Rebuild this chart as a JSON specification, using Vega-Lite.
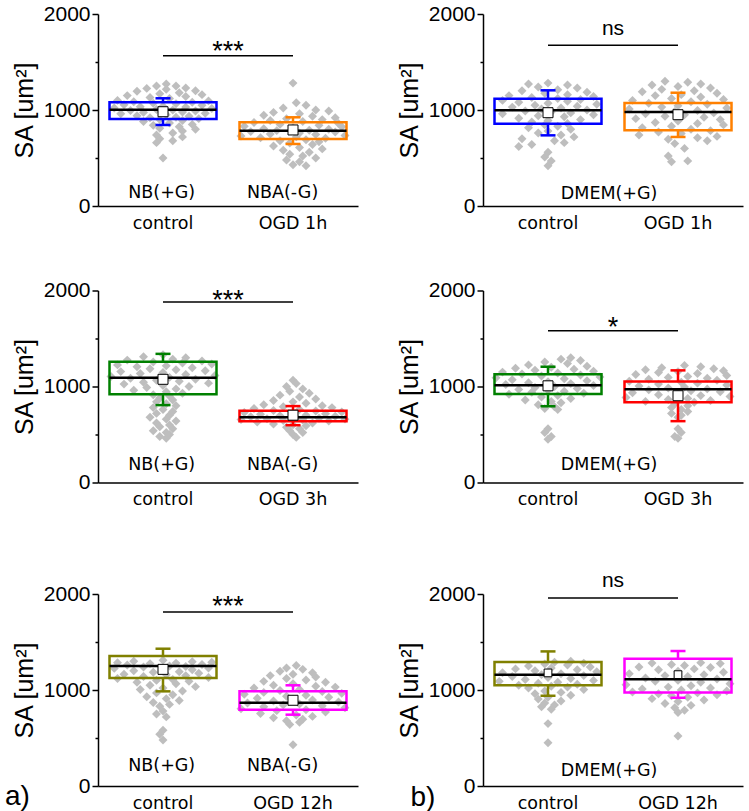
{
"$schema": "https://vega.github.io/schema/vega-lite/v6.json",
"padding": {"left": 5, "top": 3, "right": 2, "bottom": 0},
"background": "#FFFFFF",
"datasets": {
"pts": [
{"p":"1L","g":"control","v":1270,"o":0.05},{"p":"1L","g":"control","v":1250,"o":-0.1},{"p":"1L","g":"control","v":1250,"o":0.2},{"p":"1L","g":"control","v":1230,"o":0.35},{"p":"1L","g":"control","v":1225,"o":-0.25},{"p":"1L","g":"control","v":1215,"o":0.05},{"p":"1L","g":"control","v":1200,"o":0.5},{"p":"1L","g":"control","v":1195,"o":-0.4},{"p":"1L","g":"control","v":1180,"o":0.25},{"p":"1L","g":"control","v":1170,"o":-0.05},{"p":"1L","g":"control","v":1160,"o":0.6},{"p":"1L","g":"control","v":1150,"o":-0.55},{"p":"1L","g":"control","v":1140,"o":0.35},{"p":"1L","g":"control","v":1130,"o":-0.2},{"p":"1L","g":"control","v":1120,"o":0.1},{"p":"1L","g":"control","v":1100,"o":-0.7},{"p":"1L","g":"control","v":1095,"o":0.7},{"p":"1L","g":"control","v":1085,"o":-0.45},{"p":"1L","g":"control","v":1080,"o":0.45},{"p":"1L","g":"control","v":1070,"o":-0.15},{"p":"1L","g":"control","v":1065,"o":0.2},{"p":"1L","g":"control","v":1055,"o":-0.6},{"p":"1L","g":"control","v":1050,"o":0.6},{"p":"1L","g":"control","v":1040,"o":0},{"p":"1L","g":"control","v":1035,"o":-0.35},{"p":"1L","g":"control","v":1030,"o":0.35},{"p":"1L","g":"control","v":1020,"o":-0.75},{"p":"1L","g":"control","v":1015,"o":0.75},{"p":"1L","g":"control","v":1005,"o":-0.1},{"p":"1L","g":"control","v":1000,"o":0.15},{"p":"1L","g":"control","v":995,"o":-0.5},{"p":"1L","g":"control","v":990,"o":0.5},{"p":"1L","g":"control","v":980,"o":0.3},{"p":"1L","g":"control","v":975,"o":-0.3},{"p":"1L","g":"control","v":965,"o":0.65},{"p":"1L","g":"control","v":960,"o":-0.65},{"p":"1L","g":"control","v":950,"o":0.05},{"p":"1L","g":"control","v":940,"o":-0.4},{"p":"1L","g":"control","v":935,"o":0.4},{"p":"1L","g":"control","v":925,"o":0.2},{"p":"1L","g":"control","v":920,"o":-0.2},{"p":"1L","g":"control","v":910,"o":0.55},{"p":"1L","g":"control","v":900,"o":-0.05},{"p":"1L","g":"control","v":890,"o":0.3},{"p":"1L","g":"control","v":880,"o":-0.3},{"p":"1L","g":"control","v":865,"o":0.1},{"p":"1L","g":"control","v":850,"o":0.45},{"p":"1L","g":"control","v":840,"o":-0.15},{"p":"1L","g":"control","v":825,"o":0.25},{"p":"1L","g":"control","v":810,"o":-0.05},{"p":"1L","g":"control","v":800,"o":0.5},{"p":"1L","g":"control","v":780,"o":0.3},{"p":"1L","g":"control","v":760,"o":0.15},{"p":"1L","g":"control","v":740,"o":-0.1},{"p":"1L","g":"control","v":720,"o":0.3},{"p":"1L","g":"control","v":700,"o":-0.05},{"p":"1L","g":"control","v":680,"o":0.15},{"p":"1L","g":"control","v":660,"o":-0.1},{"p":"1L","g":"control","v":500,"o":0},
{"p":"1L","g":"OGD 1h","v":1280,"o":0},{"p":"1L","g":"OGD 1h","v":1075,"o":0.05},{"p":"1L","g":"OGD 1h","v":1050,"o":0.2},{"p":"1L","g":"OGD 1h","v":1020,"o":-0.15},{"p":"1L","g":"OGD 1h","v":1000,"o":0.35},{"p":"1L","g":"OGD 1h","v":990,"o":0.55},{"p":"1L","g":"OGD 1h","v":975,"o":-0.3},{"p":"1L","g":"OGD 1h","v":960,"o":0.1},{"p":"1L","g":"OGD 1h","v":945,"o":-0.45},{"p":"1L","g":"OGD 1h","v":935,"o":0.3},{"p":"1L","g":"OGD 1h","v":920,"o":0.65},{"p":"1L","g":"OGD 1h","v":910,"o":-0.1},{"p":"1L","g":"OGD 1h","v":900,"o":0.45},{"p":"1L","g":"OGD 1h","v":890,"o":-0.35},{"p":"1L","g":"OGD 1h","v":880,"o":0.15},{"p":"1L","g":"OGD 1h","v":870,"o":-0.6},{"p":"1L","g":"OGD 1h","v":860,"o":0.7},{"p":"1L","g":"OGD 1h","v":850,"o":-0.2},{"p":"1L","g":"OGD 1h","v":840,"o":0.4},{"p":"1L","g":"OGD 1h","v":830,"o":-0.75},{"p":"1L","g":"OGD 1h","v":825,"o":0.75},{"p":"1L","g":"OGD 1h","v":815,"o":0},{"p":"1L","g":"OGD 1h","v":805,"o":-0.45},{"p":"1L","g":"OGD 1h","v":800,"o":0.55},{"p":"1L","g":"OGD 1h","v":790,"o":0.25},{"p":"1L","g":"OGD 1h","v":785,"o":-0.25},{"p":"1L","g":"OGD 1h","v":775,"o":-0.65},{"p":"1L","g":"OGD 1h","v":770,"o":0.65},{"p":"1L","g":"OGD 1h","v":760,"o":0.1},{"p":"1L","g":"OGD 1h","v":750,"o":-0.35},{"p":"1L","g":"OGD 1h","v":745,"o":0.35},{"p":"1L","g":"OGD 1h","v":735,"o":0.8},{"p":"1L","g":"OGD 1h","v":730,"o":-0.8},{"p":"1L","g":"OGD 1h","v":720,"o":0.05},{"p":"1L","g":"OGD 1h","v":710,"o":-0.5},{"p":"1L","g":"OGD 1h","v":705,"o":0.5},{"p":"1L","g":"OGD 1h","v":690,"o":0.2},{"p":"1L","g":"OGD 1h","v":680,"o":-0.2},{"p":"1L","g":"OGD 1h","v":670,"o":0.4},{"p":"1L","g":"OGD 1h","v":655,"o":-0.05},{"p":"1L","g":"OGD 1h","v":640,"o":0.3},{"p":"1L","g":"OGD 1h","v":625,"o":-0.3},{"p":"1L","g":"OGD 1h","v":610,"o":0.1},{"p":"1L","g":"OGD 1h","v":595,"o":0.45},{"p":"1L","g":"OGD 1h","v":580,"o":-0.15},{"p":"1L","g":"OGD 1h","v":560,"o":0.25},{"p":"1L","g":"OGD 1h","v":540,"o":-0.05},{"p":"1L","g":"OGD 1h","v":520,"o":0.15},{"p":"1L","g":"OGD 1h","v":500,"o":0.35},{"p":"1L","g":"OGD 1h","v":480,"o":-0.1},{"p":"1L","g":"OGD 1h","v":460,"o":0.1},{"p":"1L","g":"OGD 1h","v":430,"o":0},{"p":"1L","g":"OGD 1h","v":420,"o":0.2},
{"p":"1R","g":"control","v":1280,"o":0},{"p":"1R","g":"control","v":1270,"o":-0.3},{"p":"1R","g":"control","v":1260,"o":0.3},{"p":"1R","g":"control","v":1240,"o":-0.15},{"p":"1R","g":"control","v":1230,"o":0.45},{"p":"1R","g":"control","v":1210,"o":0.15},{"p":"1R","g":"control","v":1200,"o":-0.4},{"p":"1R","g":"control","v":1185,"o":0.6},{"p":"1R","g":"control","v":1175,"o":-0.05},{"p":"1R","g":"control","v":1160,"o":0.3},{"p":"1R","g":"control","v":1150,"o":-0.6},{"p":"1R","g":"control","v":1140,"o":0.7},{"p":"1R","g":"control","v":1130,"o":-0.25},{"p":"1R","g":"control","v":1120,"o":0.15},{"p":"1R","g":"control","v":1110,"o":0.5},{"p":"1R","g":"control","v":1100,"o":-0.7},{"p":"1R","g":"control","v":1090,"o":0.3},{"p":"1R","g":"control","v":1080,"o":-0.45},{"p":"1R","g":"control","v":1070,"o":0},{"p":"1R","g":"control","v":1060,"o":0.75},{"p":"1R","g":"control","v":1050,"o":-0.2},{"p":"1R","g":"control","v":1040,"o":0.45},{"p":"1R","g":"control","v":1030,"o":-0.55},{"p":"1R","g":"control","v":1020,"o":0.2},{"p":"1R","g":"control","v":1010,"o":-0.1},{"p":"1R","g":"control","v":1000,"o":0.6},{"p":"1R","g":"control","v":990,"o":-0.35},{"p":"1R","g":"control","v":980,"o":0.05},{"p":"1R","g":"control","v":970,"o":0.35},{"p":"1R","g":"control","v":960,"o":-0.7},{"p":"1R","g":"control","v":950,"o":0.7},{"p":"1R","g":"control","v":940,"o":-0.15},{"p":"1R","g":"control","v":930,"o":0.25},{"p":"1R","g":"control","v":915,"o":-0.45},{"p":"1R","g":"control","v":900,"o":0.5},{"p":"1R","g":"control","v":890,"o":0},{"p":"1R","g":"control","v":875,"o":-0.25},{"p":"1R","g":"control","v":860,"o":0.3},{"p":"1R","g":"control","v":845,"o":-0.05},{"p":"1R","g":"control","v":830,"o":0.15},{"p":"1R","g":"control","v":815,"o":-0.3},{"p":"1R","g":"control","v":800,"o":0.35},{"p":"1R","g":"control","v":780,"o":0},{"p":"1R","g":"control","v":760,"o":-0.15},{"p":"1R","g":"control","v":740,"o":0.2},{"p":"1R","g":"control","v":720,"o":0.4},{"p":"1R","g":"control","v":700,"o":-0.4},{"p":"1R","g":"control","v":680,"o":0.1},{"p":"1R","g":"control","v":660,"o":0.25},{"p":"1R","g":"control","v":640,"o":-0.25},{"p":"1R","g":"control","v":620,"o":-0.45},{"p":"1R","g":"control","v":560,"o":0},{"p":"1R","g":"control","v":510,"o":-0.05},{"p":"1R","g":"control","v":470,"o":0.05},{"p":"1R","g":"control","v":420,"o":0},
{"p":"1R","g":"OGD 1h","v":1300,"o":-0.2},{"p":"1R","g":"OGD 1h","v":1290,"o":0.15},{"p":"1R","g":"OGD 1h","v":1270,"o":0.35},{"p":"1R","g":"OGD 1h","v":1260,"o":-0.4},{"p":"1R","g":"OGD 1h","v":1245,"o":0},{"p":"1R","g":"OGD 1h","v":1230,"o":0.5},{"p":"1R","g":"OGD 1h","v":1215,"o":-0.25},{"p":"1R","g":"OGD 1h","v":1200,"o":0.25},{"p":"1R","g":"OGD 1h","v":1190,"o":-0.55},{"p":"1R","g":"OGD 1h","v":1175,"o":0.6},{"p":"1R","g":"OGD 1h","v":1160,"o":0.05},{"p":"1R","g":"OGD 1h","v":1150,"o":-0.35},{"p":"1R","g":"OGD 1h","v":1135,"o":0.35},{"p":"1R","g":"OGD 1h","v":1120,"o":-0.1},{"p":"1R","g":"OGD 1h","v":1110,"o":0.7},{"p":"1R","g":"OGD 1h","v":1100,"o":-0.7},{"p":"1R","g":"OGD 1h","v":1085,"o":0.2},{"p":"1R","g":"OGD 1h","v":1070,"o":-0.45},{"p":"1R","g":"OGD 1h","v":1060,"o":0.45},{"p":"1R","g":"OGD 1h","v":1045,"o":0},{"p":"1R","g":"OGD 1h","v":1030,"o":-0.25},{"p":"1R","g":"OGD 1h","v":1020,"o":0.75},{"p":"1R","g":"OGD 1h","v":1010,"o":-0.75},{"p":"1R","g":"OGD 1h","v":995,"o":0.3},{"p":"1R","g":"OGD 1h","v":985,"o":-0.05},{"p":"1R","g":"OGD 1h","v":970,"o":0.55},{"p":"1R","g":"OGD 1h","v":960,"o":-0.5},{"p":"1R","g":"OGD 1h","v":950,"o":0.1},{"p":"1R","g":"OGD 1h","v":935,"o":-0.2},{"p":"1R","g":"OGD 1h","v":925,"o":0.4},{"p":"1R","g":"OGD 1h","v":910,"o":-0.65},{"p":"1R","g":"OGD 1h","v":900,"o":0.65},{"p":"1R","g":"OGD 1h","v":885,"o":0},{"p":"1R","g":"OGD 1h","v":870,"o":-0.35},{"p":"1R","g":"OGD 1h","v":860,"o":0.3},{"p":"1R","g":"OGD 1h","v":845,"o":0.7},{"p":"1R","g":"OGD 1h","v":830,"o":-0.1},{"p":"1R","g":"OGD 1h","v":815,"o":-0.55},{"p":"1R","g":"OGD 1h","v":800,"o":0.2},{"p":"1R","g":"OGD 1h","v":785,"o":0.5},{"p":"1R","g":"OGD 1h","v":770,"o":-0.3},{"p":"1R","g":"OGD 1h","v":755,"o":0.05},{"p":"1R","g":"OGD 1h","v":740,"o":-0.6},{"p":"1R","g":"OGD 1h","v":725,"o":0.6},{"p":"1R","g":"OGD 1h","v":710,"o":0.3},{"p":"1R","g":"OGD 1h","v":695,"o":-0.15},{"p":"1R","g":"OGD 1h","v":680,"o":0.45},{"p":"1R","g":"OGD 1h","v":650,"o":-0.05},{"p":"1R","g":"OGD 1h","v":600,"o":0.1},{"p":"1R","g":"OGD 1h","v":520,"o":-0.15},{"p":"1R","g":"OGD 1h","v":470,"o":0.15},{"p":"1R","g":"OGD 1h","v":460,"o":-0.1},
{"p":"2L","g":"control","v":1330,"o":0},{"p":"2L","g":"control","v":1310,"o":-0.3},{"p":"2L","g":"control","v":1300,"o":0.35},{"p":"2L","g":"control","v":1285,"o":0.15},{"p":"2L","g":"control","v":1275,"o":-0.55},{"p":"2L","g":"control","v":1265,"o":0.6},{"p":"2L","g":"control","v":1255,"o":-0.15},{"p":"2L","g":"control","v":1245,"o":0.3},{"p":"2L","g":"control","v":1235,"o":0.75},{"p":"2L","g":"control","v":1225,"o":-0.7},{"p":"2L","g":"control","v":1215,"o":0.05},{"p":"2L","g":"control","v":1205,"o":-0.4},{"p":"2L","g":"control","v":1195,"o":0.45},{"p":"2L","g":"control","v":1185,"o":-0.2},{"p":"2L","g":"control","v":1175,"o":0.2},{"p":"2L","g":"control","v":1165,"o":0.65},{"p":"2L","g":"control","v":1155,"o":-0.65},{"p":"2L","g":"control","v":1145,"o":0},{"p":"2L","g":"control","v":1135,"o":-0.35},{"p":"2L","g":"control","v":1125,"o":0.35},{"p":"2L","g":"control","v":1115,"o":0.8},{"p":"2L","g":"control","v":1105,"o":-0.8},{"p":"2L","g":"control","v":1095,"o":0.1},{"p":"2L","g":"control","v":1085,"o":-0.5},{"p":"2L","g":"control","v":1075,"o":0.5},{"p":"2L","g":"control","v":1065,"o":-0.1},{"p":"2L","g":"control","v":1055,"o":0.25},{"p":"2L","g":"control","v":1045,"o":-0.3},{"p":"2L","g":"control","v":1035,"o":0.7},{"p":"2L","g":"control","v":1025,"o":-0.6},{"p":"2L","g":"control","v":1010,"o":0},{"p":"2L","g":"control","v":1000,"o":0.4},{"p":"2L","g":"control","v":990,"o":-0.25},{"p":"2L","g":"control","v":975,"o":0.2},{"p":"2L","g":"control","v":960,"o":-0.45},{"p":"2L","g":"control","v":945,"o":0.05},{"p":"2L","g":"control","v":930,"o":0.3},{"p":"2L","g":"control","v":915,"o":-0.15},{"p":"2L","g":"control","v":900,"o":0.1},{"p":"2L","g":"control","v":880,"o":-0.05},{"p":"2L","g":"control","v":860,"o":0.15},{"p":"2L","g":"control","v":840,"o":-0.1},{"p":"2L","g":"control","v":820,"o":0.05},{"p":"2L","g":"control","v":800,"o":0.2},{"p":"2L","g":"control","v":780,"o":-0.15},{"p":"2L","g":"control","v":760,"o":0},{"p":"2L","g":"control","v":740,"o":0.15},{"p":"2L","g":"control","v":720,"o":-0.1},{"p":"2L","g":"control","v":700,"o":0.1},{"p":"2L","g":"control","v":680,"o":-0.2},{"p":"2L","g":"control","v":660,"o":0.05},{"p":"2L","g":"control","v":640,"o":0.2},{"p":"2L","g":"control","v":620,"o":-0.1},{"p":"2L","g":"control","v":600,"o":0.1},{"p":"2L","g":"control","v":580,"o":-0.05},{"p":"2L","g":"control","v":560,"o":0.15},{"p":"2L","g":"control","v":540,"o":-0.15},{"p":"2L","g":"control","v":520,"o":0.05},{"p":"2L","g":"control","v":500,"o":0.1},{"p":"2L","g":"control","v":480,"o":-0.05},{"p":"2L","g":"control","v":460,"o":0.05},
{"p":"2L","g":"OGD 3h","v":1065,"o":0},{"p":"2L","g":"OGD 3h","v":1030,"o":0.05},{"p":"2L","g":"OGD 3h","v":1000,"o":-0.1},{"p":"2L","g":"OGD 3h","v":975,"o":0.15},{"p":"2L","g":"OGD 3h","v":950,"o":-0.05},{"p":"2L","g":"OGD 3h","v":930,"o":0.25},{"p":"2L","g":"OGD 3h","v":910,"o":-0.2},{"p":"2L","g":"OGD 3h","v":890,"o":0.1},{"p":"2L","g":"OGD 3h","v":870,"o":0.35},{"p":"2L","g":"OGD 3h","v":855,"o":-0.3},{"p":"2L","g":"OGD 3h","v":840,"o":0},{"p":"2L","g":"OGD 3h","v":825,"o":0.2},{"p":"2L","g":"OGD 3h","v":810,"o":-0.45},{"p":"2L","g":"OGD 3h","v":800,"o":0.45},{"p":"2L","g":"OGD 3h","v":790,"o":-0.15},{"p":"2L","g":"OGD 3h","v":780,"o":0.6},{"p":"2L","g":"OGD 3h","v":770,"o":-0.6},{"p":"2L","g":"OGD 3h","v":760,"o":0.1},{"p":"2L","g":"OGD 3h","v":750,"o":-0.3},{"p":"2L","g":"OGD 3h","v":745,"o":0.35},{"p":"2L","g":"OGD 3h","v":735,"o":0.75},{"p":"2L","g":"OGD 3h","v":730,"o":-0.75},{"p":"2L","g":"OGD 3h","v":720,"o":0},{"p":"2L","g":"OGD 3h","v":715,"o":0.5},{"p":"2L","g":"OGD 3h","v":710,"o":-0.5},{"p":"2L","g":"OGD 3h","v":700,"o":0.2},{"p":"2L","g":"OGD 3h","v":695,"o":-0.2},{"p":"2L","g":"OGD 3h","v":690,"o":0.65},{"p":"2L","g":"OGD 3h","v":685,"o":-0.65},{"p":"2L","g":"OGD 3h","v":675,"o":0.05},{"p":"2L","g":"OGD 3h","v":670,"o":0.4},{"p":"2L","g":"OGD 3h","v":665,"o":-0.4},{"p":"2L","g":"OGD 3h","v":660,"o":0.8},{"p":"2L","g":"OGD 3h","v":655,"o":-0.8},{"p":"2L","g":"OGD 3h","v":650,"o":0.15},{"p":"2L","g":"OGD 3h","v":645,"o":-0.15},{"p":"2L","g":"OGD 3h","v":640,"o":0.55},{"p":"2L","g":"OGD 3h","v":630,"o":-0.55},{"p":"2L","g":"OGD 3h","v":620,"o":0.3},{"p":"2L","g":"OGD 3h","v":610,"o":-0.3},{"p":"2L","g":"OGD 3h","v":600,"o":0},{"p":"2L","g":"OGD 3h","v":590,"o":0.2},{"p":"2L","g":"OGD 3h","v":575,"o":-0.1},{"p":"2L","g":"OGD 3h","v":560,"o":0.1},{"p":"2L","g":"OGD 3h","v":540,"o":-0.05},{"p":"2L","g":"OGD 3h","v":520,"o":0.15},{"p":"2L","g":"OGD 3h","v":500,"o":0},{"p":"2L","g":"OGD 3h","v":470,"o":0.05},
{"p":"2R","g":"control","v":1300,"o":0.35},{"p":"2R","g":"control","v":1285,"o":0.2},{"p":"2R","g":"control","v":1270,"o":0.5},{"p":"2R","g":"control","v":1255,"o":-0.05},{"p":"2R","g":"control","v":1240,"o":0.3},{"p":"2R","g":"control","v":1225,"o":-0.3},{"p":"2R","g":"control","v":1210,"o":0.6},{"p":"2R","g":"control","v":1200,"o":0.05},{"p":"2R","g":"control","v":1190,"o":-0.5},{"p":"2R","g":"control","v":1180,"o":0.4},{"p":"2R","g":"control","v":1170,"o":-0.2},{"p":"2R","g":"control","v":1160,"o":0.7},{"p":"2R","g":"control","v":1150,"o":-0.7},{"p":"2R","g":"control","v":1140,"o":0.15},{"p":"2R","g":"control","v":1130,"o":-0.4},{"p":"2R","g":"control","v":1120,"o":0.5},{"p":"2R","g":"control","v":1110,"o":-0.1},{"p":"2R","g":"control","v":1100,"o":0.8},{"p":"2R","g":"control","v":1090,"o":-0.8},{"p":"2R","g":"control","v":1080,"o":0.25},{"p":"2R","g":"control","v":1070,"o":-0.55},{"p":"2R","g":"control","v":1060,"o":0.6},{"p":"2R","g":"control","v":1050,"o":0},{"p":"2R","g":"control","v":1040,"o":-0.3},{"p":"2R","g":"control","v":1030,"o":0.35},{"p":"2R","g":"control","v":1020,"o":-0.65},{"p":"2R","g":"control","v":1010,"o":0.7},{"p":"2R","g":"control","v":1000,"o":0.1},{"p":"2R","g":"control","v":990,"o":-0.2},{"p":"2R","g":"control","v":980,"o":0.45},{"p":"2R","g":"control","v":970,"o":-0.45},{"p":"2R","g":"control","v":960,"o":0},{"p":"2R","g":"control","v":950,"o":0.25},{"p":"2R","g":"control","v":940,"o":-0.25},{"p":"2R","g":"control","v":930,"o":0.55},{"p":"2R","g":"control","v":920,"o":-0.6},{"p":"2R","g":"control","v":905,"o":0.15},{"p":"2R","g":"control","v":890,"o":-0.1},{"p":"2R","g":"control","v":875,"o":0.35},{"p":"2R","g":"control","v":860,"o":-0.35},{"p":"2R","g":"control","v":845,"o":0.05},{"p":"2R","g":"control","v":830,"o":0.2},{"p":"2R","g":"control","v":810,"o":-0.15},{"p":"2R","g":"control","v":790,"o":0.1},{"p":"2R","g":"control","v":770,"o":-0.05},{"p":"2R","g":"control","v":760,"o":0.15},{"p":"2R","g":"control","v":560,"o":0},{"p":"2R","g":"control","v":520,"o":-0.05},{"p":"2R","g":"control","v":480,"o":0.05},{"p":"2R","g":"control","v":450,"o":0},
{"p":"2R","g":"OGD 3h","v":1220,"o":0.1},{"p":"2R","g":"OGD 3h","v":1205,"o":0.35},{"p":"2R","g":"OGD 3h","v":1195,"o":-0.25},{"p":"2R","g":"OGD 3h","v":1185,"o":0.55},{"p":"2R","g":"OGD 3h","v":1175,"o":-0.5},{"p":"2R","g":"OGD 3h","v":1165,"o":0.7},{"p":"2R","g":"OGD 3h","v":1155,"o":0},{"p":"2R","g":"OGD 3h","v":1145,"o":-0.3},{"p":"2R","g":"OGD 3h","v":1135,"o":0.3},{"p":"2R","g":"OGD 3h","v":1125,"o":-0.65},{"p":"2R","g":"OGD 3h","v":1115,"o":0.75},{"p":"2R","g":"OGD 3h","v":1105,"o":0.15},{"p":"2R","g":"OGD 3h","v":1095,"o":-0.15},{"p":"2R","g":"OGD 3h","v":1085,"o":0.45},{"p":"2R","g":"OGD 3h","v":1075,"o":-0.45},{"p":"2R","g":"OGD 3h","v":1065,"o":0.6},{"p":"2R","g":"OGD 3h","v":1055,"o":-0.75},{"p":"2R","g":"OGD 3h","v":1045,"o":0.05},{"p":"2R","g":"OGD 3h","v":1035,"o":0.3},{"p":"2R","g":"OGD 3h","v":1025,"o":-0.3},{"p":"2R","g":"OGD 3h","v":1015,"o":0.75},{"p":"2R","g":"OGD 3h","v":1005,"o":-0.6},{"p":"2R","g":"OGD 3h","v":995,"o":0.1},{"p":"2R","g":"OGD 3h","v":985,"o":-0.15},{"p":"2R","g":"OGD 3h","v":975,"o":0.45},{"p":"2R","g":"OGD 3h","v":965,"o":-0.45},{"p":"2R","g":"OGD 3h","v":955,"o":0.2},{"p":"2R","g":"OGD 3h","v":945,"o":0.65},{"p":"2R","g":"OGD 3h","v":935,"o":-0.7},{"p":"2R","g":"OGD 3h","v":925,"o":0},{"p":"2R","g":"OGD 3h","v":915,"o":-0.3},{"p":"2R","g":"OGD 3h","v":905,"o":0.35},{"p":"2R","g":"OGD 3h","v":895,"o":0.8},{"p":"2R","g":"OGD 3h","v":885,"o":-0.8},{"p":"2R","g":"OGD 3h","v":875,"o":0.15},{"p":"2R","g":"OGD 3h","v":865,"o":-0.15},{"p":"2R","g":"OGD 3h","v":855,"o":0.5},{"p":"2R","g":"OGD 3h","v":845,"o":-0.5},{"p":"2R","g":"OGD 3h","v":835,"o":0.25},{"p":"2R","g":"OGD 3h","v":820,"o":-0.05},{"p":"2R","g":"OGD 3h","v":800,"o":0.15},{"p":"2R","g":"OGD 3h","v":780,"o":-0.1},{"p":"2R","g":"OGD 3h","v":760,"o":0.05},{"p":"2R","g":"OGD 3h","v":740,"o":0.15},{"p":"2R","g":"OGD 3h","v":720,"o":-0.1},{"p":"2R","g":"OGD 3h","v":700,"o":0.05},{"p":"2R","g":"OGD 3h","v":680,"o":0},{"p":"2R","g":"OGD 3h","v":560,"o":0},{"p":"2R","g":"OGD 3h","v":520,"o":0.05},{"p":"2R","g":"OGD 3h","v":480,"o":-0.05},{"p":"2R","g":"OGD 3h","v":460,"o":0},
{"p":"3L","g":"control","v":1310,"o":0},{"p":"3L","g":"control","v":1300,"o":-0.45},{"p":"3L","g":"control","v":1295,"o":0.45},{"p":"3L","g":"control","v":1290,"o":0.75},{"p":"3L","g":"control","v":1285,"o":-0.7},{"p":"3L","g":"control","v":1280,"o":0.2},{"p":"3L","g":"control","v":1275,"o":-0.2},{"p":"3L","g":"control","v":1265,"o":0.6},{"p":"3L","g":"control","v":1260,"o":-0.55},{"p":"3L","g":"control","v":1250,"o":0.1},{"p":"3L","g":"control","v":1245,"o":0.35},{"p":"3L","g":"control","v":1240,"o":-0.3},{"p":"3L","g":"control","v":1230,"o":0.7},{"p":"3L","g":"control","v":1225,"o":-0.75},{"p":"3L","g":"control","v":1215,"o":0},{"p":"3L","g":"control","v":1210,"o":0.45},{"p":"3L","g":"control","v":1200,"o":-0.45},{"p":"3L","g":"control","v":1190,"o":0.25},{"p":"3L","g":"control","v":1185,"o":-0.15},{"p":"3L","g":"control","v":1175,"o":0.55},{"p":"3L","g":"control","v":1165,"o":-0.6},{"p":"3L","g":"control","v":1160,"o":0.05},{"p":"3L","g":"control","v":1150,"o":0.35},{"p":"3L","g":"control","v":1140,"o":-0.3},{"p":"3L","g":"control","v":1130,"o":0.7},{"p":"3L","g":"control","v":1120,"o":-0.7},{"p":"3L","g":"control","v":1110,"o":0.15},{"p":"3L","g":"control","v":1100,"o":-0.1},{"p":"3L","g":"control","v":1090,"o":0.4},{"p":"3L","g":"control","v":1080,"o":-0.4},{"p":"3L","g":"control","v":1065,"o":0.2},{"p":"3L","g":"control","v":1050,"o":-0.2},{"p":"3L","g":"control","v":1035,"o":0.5},{"p":"3L","g":"control","v":1020,"o":0},{"p":"3L","g":"control","v":1005,"o":-0.35},{"p":"3L","g":"control","v":990,"o":0.3},{"p":"3L","g":"control","v":970,"o":-0.1},{"p":"3L","g":"control","v":950,"o":0.15},{"p":"3L","g":"control","v":930,"o":-0.25},{"p":"3L","g":"control","v":910,"o":0.05},{"p":"3L","g":"control","v":890,"o":0.25},{"p":"3L","g":"control","v":870,"o":-0.15},{"p":"3L","g":"control","v":850,"o":0.1},{"p":"3L","g":"control","v":830,"o":-0.05},{"p":"3L","g":"control","v":780,"o":0},{"p":"3L","g":"control","v":750,"o":-0.1},{"p":"3L","g":"control","v":720,"o":0.05},{"p":"3L","g":"control","v":580,"o":0},{"p":"3L","g":"control","v":540,"o":-0.05},{"p":"3L","g":"control","v":480,"o":0},
{"p":"3L","g":"OGD 12h","v":1255,"o":0.05},{"p":"3L","g":"OGD 12h","v":1230,"o":-0.1},{"p":"3L","g":"OGD 12h","v":1215,"o":0.15},{"p":"3L","g":"OGD 12h","v":1195,"o":-0.2},{"p":"3L","g":"OGD 12h","v":1180,"o":0.3},{"p":"3L","g":"OGD 12h","v":1165,"o":0},{"p":"3L","g":"OGD 12h","v":1150,"o":-0.35},{"p":"3L","g":"OGD 12h","v":1135,"o":0.35},{"p":"3L","g":"OGD 12h","v":1120,"o":-0.1},{"p":"3L","g":"OGD 12h","v":1105,"o":0.2},{"p":"3L","g":"OGD 12h","v":1090,"o":-0.45},{"p":"3L","g":"OGD 12h","v":1080,"o":0.5},{"p":"3L","g":"OGD 12h","v":1065,"o":0},{"p":"3L","g":"OGD 12h","v":1050,"o":-0.3},{"p":"3L","g":"OGD 12h","v":1040,"o":0.35},{"p":"3L","g":"OGD 12h","v":1030,"o":0.65},{"p":"3L","g":"OGD 12h","v":1020,"o":-0.6},{"p":"3L","g":"OGD 12h","v":1005,"o":0.1},{"p":"3L","g":"OGD 12h","v":995,"o":-0.2},{"p":"3L","g":"OGD 12h","v":985,"o":0.45},{"p":"3L","g":"OGD 12h","v":975,"o":-0.45},{"p":"3L","g":"OGD 12h","v":965,"o":0.75},{"p":"3L","g":"OGD 12h","v":955,"o":-0.75},{"p":"3L","g":"OGD 12h","v":945,"o":0.2},{"p":"3L","g":"OGD 12h","v":935,"o":-0.1},{"p":"3L","g":"OGD 12h","v":925,"o":0.55},{"p":"3L","g":"OGD 12h","v":915,"o":-0.55},{"p":"3L","g":"OGD 12h","v":905,"o":0},{"p":"3L","g":"OGD 12h","v":895,"o":0.3},{"p":"3L","g":"OGD 12h","v":885,"o":-0.3},{"p":"3L","g":"OGD 12h","v":875,"o":0.7},{"p":"3L","g":"OGD 12h","v":865,"o":-0.7},{"p":"3L","g":"OGD 12h","v":855,"o":0.1},{"p":"3L","g":"OGD 12h","v":845,"o":-0.15},{"p":"3L","g":"OGD 12h","v":835,"o":0.45},{"p":"3L","g":"OGD 12h","v":825,"o":-0.45},{"p":"3L","g":"OGD 12h","v":815,"o":0.8},{"p":"3L","g":"OGD 12h","v":805,"o":-0.8},{"p":"3L","g":"OGD 12h","v":795,"o":0.2},{"p":"3L","g":"OGD 12h","v":785,"o":-0.25},{"p":"3L","g":"OGD 12h","v":770,"o":0.5},{"p":"3L","g":"OGD 12h","v":755,"o":-0.5},{"p":"3L","g":"OGD 12h","v":740,"o":0.05},{"p":"3L","g":"OGD 12h","v":725,"o":0.3},{"p":"3L","g":"OGD 12h","v":710,"o":-0.3},{"p":"3L","g":"OGD 12h","v":695,"o":0.15},{"p":"3L","g":"OGD 12h","v":680,"o":-0.1},{"p":"3L","g":"OGD 12h","v":665,"o":0.1},{"p":"3L","g":"OGD 12h","v":640,"o":-0.05},{"p":"3L","g":"OGD 12h","v":430,"o":0},
{"p":"3R","g":"control","v":1300,"o":0.35},{"p":"3R","g":"control","v":1290,"o":0.1},{"p":"3R","g":"control","v":1280,"o":0.55},{"p":"3R","g":"control","v":1270,"o":-0.05},{"p":"3R","g":"control","v":1260,"o":0.3},{"p":"3R","g":"control","v":1250,"o":-0.3},{"p":"3R","g":"control","v":1240,"o":0.65},{"p":"3R","g":"control","v":1230,"o":0.05},{"p":"3R","g":"control","v":1220,"o":-0.5},{"p":"3R","g":"control","v":1210,"o":0.45},{"p":"3R","g":"control","v":1200,"o":-0.2},{"p":"3R","g":"control","v":1190,"o":0.75},{"p":"3R","g":"control","v":1180,"o":-0.7},{"p":"3R","g":"control","v":1170,"o":0.2},{"p":"3R","g":"control","v":1160,"o":-0.1},{"p":"3R","g":"control","v":1150,"o":0.55},{"p":"3R","g":"control","v":1140,"o":-0.55},{"p":"3R","g":"control","v":1130,"o":0},{"p":"3R","g":"control","v":1120,"o":0.35},{"p":"3R","g":"control","v":1110,"o":-0.35},{"p":"3R","g":"control","v":1100,"o":0.7},{"p":"3R","g":"control","v":1090,"o":-0.75},{"p":"3R","g":"control","v":1080,"o":0.15},{"p":"3R","g":"control","v":1070,"o":-0.15},{"p":"3R","g":"control","v":1060,"o":0.45},{"p":"3R","g":"control","v":1050,"o":-0.45},{"p":"3R","g":"control","v":1040,"o":0.05},{"p":"3R","g":"control","v":1030,"o":0.3},{"p":"3R","g":"control","v":1020,"o":-0.3},{"p":"3R","g":"control","v":1005,"o":0.55},{"p":"3R","g":"control","v":990,"o":-0.05},{"p":"3R","g":"control","v":975,"o":0.2},{"p":"3R","g":"control","v":960,"o":-0.2},{"p":"3R","g":"control","v":945,"o":0.35},{"p":"3R","g":"control","v":925,"o":0},{"p":"3R","g":"control","v":905,"o":-0.15},{"p":"3R","g":"control","v":885,"o":0.2},{"p":"3R","g":"control","v":865,"o":-0.05},{"p":"3R","g":"control","v":845,"o":0.1},{"p":"3R","g":"control","v":825,"o":-0.1},{"p":"3R","g":"control","v":800,"o":0.05},{"p":"3R","g":"control","v":650,"o":0},{"p":"3R","g":"control","v":450,"o":0},
{"p":"3R","g":"OGD 12h","v":1285,"o":0.35},{"p":"3R","g":"OGD 12h","v":1280,"o":-0.4},{"p":"3R","g":"OGD 12h","v":1275,"o":0.65},{"p":"3R","g":"OGD 12h","v":1265,"o":-0.1},{"p":"3R","g":"OGD 12h","v":1255,"o":0.1},{"p":"3R","g":"OGD 12h","v":1240,"o":-0.6},{"p":"3R","g":"OGD 12h","v":1235,"o":0.5},{"p":"3R","g":"OGD 12h","v":1220,"o":0.25},{"p":"3R","g":"OGD 12h","v":1210,"o":-0.3},{"p":"3R","g":"OGD 12h","v":1195,"o":0},{"p":"3R","g":"OGD 12h","v":1185,"o":0.7},{"p":"3R","g":"OGD 12h","v":1170,"o":-0.75},{"p":"3R","g":"OGD 12h","v":1160,"o":0.4},{"p":"3R","g":"OGD 12h","v":1150,"o":-0.2},{"p":"3R","g":"OGD 12h","v":1140,"o":0.15},{"p":"3R","g":"OGD 12h","v":1125,"o":-0.5},{"p":"3R","g":"OGD 12h","v":1115,"o":0.6},{"p":"3R","g":"OGD 12h","v":1100,"o":0},{"p":"3R","g":"OGD 12h","v":1090,"o":-0.35},{"p":"3R","g":"OGD 12h","v":1080,"o":0.35},{"p":"3R","g":"OGD 12h","v":1065,"o":0.8},{"p":"3R","g":"OGD 12h","v":1055,"o":-0.8},{"p":"3R","g":"OGD 12h","v":1045,"o":0.2},{"p":"3R","g":"OGD 12h","v":1030,"o":-0.15},{"p":"3R","g":"OGD 12h","v":1020,"o":0.5},{"p":"3R","g":"OGD 12h","v":1010,"o":-0.55},{"p":"3R","g":"OGD 12h","v":1000,"o":0.05},{"p":"3R","g":"OGD 12h","v":990,"o":0.75},{"p":"3R","g":"OGD 12h","v":980,"o":-0.7},{"p":"3R","g":"OGD 12h","v":970,"o":0.3},{"p":"3R","g":"OGD 12h","v":960,"o":-0.3},{"p":"3R","g":"OGD 12h","v":950,"o":0.6},{"p":"3R","g":"OGD 12h","v":940,"o":-0.1},{"p":"3R","g":"OGD 12h","v":925,"o":0.15},{"p":"3R","g":"OGD 12h","v":910,"o":-0.4},{"p":"3R","g":"OGD 12h","v":895,"o":0.4},{"p":"3R","g":"OGD 12h","v":880,"o":0},{"p":"3R","g":"OGD 12h","v":860,"o":-0.2},{"p":"3R","g":"OGD 12h","v":840,"o":0.2},{"p":"3R","g":"OGD 12h","v":815,"o":-0.05},{"p":"3R","g":"OGD 12h","v":790,"o":0.1},{"p":"3R","g":"OGD 12h","v":765,"o":0},{"p":"3R","g":"OGD 12h","v":520,"o":0}
],
"box": [
{"p":"1L","g":"control","k":"c1","q1":906,"q3":1080,"med":1003,"lo":844,"hi":1122,"mean":982},
{"p":"1L","g":"OGD 1h","k":"o1","q1":698,"q3":872,"med":785,"lo":646,"hi":924,"mean":792},
{"p":"1R","g":"control","k":"c1","q1":857,"q3":1118,"med":997,"lo":736,"hi":1205,"mean":972},
{"p":"1R","g":"OGD 1h","k":"o1","q1":788,"q3":1073,"med":979,"lo":719,"hi":1180,"mean":951},
{"p":"2L","g":"control","k":"c3","q1":918,"q3":1259,"med":1092,"lo":806,"hi":1340,"mean":1075},
{"p":"2L","g":"OGD 3h","k":"o3","q1":639,"q3":747,"med":680,"lo":597,"hi":796,"mean":701},
{"p":"2R","g":"control","k":"c3","q1":921,"q3":1127,"med":1014,"lo":794,"hi":1206,"mean":1007},
{"p":"2R","g":"OGD 3h","k":"o3","q1":835,"q3":1052,"med":972,"lo":639,"hi":1168,"mean":904},
{"p":"3L","g":"control","k":"c12","q1":1125,"q3":1354,"med":1250,"lo":986,"hi":1430,"mean":1215},
{"p":"3L","g":"OGD 12h","k":"o12","q1":795,"q3":986,"med":868,"lo":743,"hi":1049,"mean":893},
{"p":"3R","g":"control","k":"c12","q1":1050,"q3":1292,"med":1160,"lo":940,"hi":1402,"mean":1178},
{"p":"3R","g":"OGD 12h","k":"o12","q1":974,"q3":1326,"med":1112,"lo":919,"hi":1406,"mean":1160}
],
"sig": [
{"p":"1L","g":"control","g2":"OGD 1h","y":1566,"ty":1523,"t":"***"},
{"p":"1R","g":"control","g2":"OGD 1h","y":1674,"ty":1778,"t":"ns"},
{"p":"2L","g":"control","g2":"OGD 3h","y":1881,"ty":1804,"t":"***"},
{"p":"2R","g":"control","g2":"OGD 3h","y":1580,"ty":1526,"t":"*"},
{"p":"3L","g":"control","g2":"OGD 12h","y":1812,"ty":1781,"t":"***"},
{"p":"3R","g":"control","g2":"OGD 12h","y":1958,"ty":2069,"t":"ns"}
],
"lab": [
{"p":"1L","g":"control","t":"NB(+G)","y":80},{"p":"1L","g":"OGD 1h","t":"NBA(-G)","y":80},
{"p":"1R","g":"control","t":"DMEM(+G)","y":70},
{"p":"2L","g":"control","t":"NB(+G)","y":129},{"p":"2L","g":"OGD 3h","t":"NBA(-G)","y":129},
{"p":"2R","g":"control","t":"DMEM(+G)","y":131},
{"p":"3L","g":"control","t":"NB(+G)","y":156},{"p":"3L","g":"OGD 12h","t":"NBA(-G)","y":156},
{"p":"3R","g":"control","t":"DMEM(+G)","y":100}
],
"corner": [
{"p":"3L","g":"control","t":"a)","y":-198},
{"p":"3R","g":"control","t":"b)","y":-210}
]
},
"columns": 2,
"spacing": {"row": 47.5, "column": 39},
"concat": [
{"width":260,"height":192,"layer":[
 {"data":{"name":"pts"},"transform":[{"filter":"datum.p==='1L'"}],"mark":{"type":"point","shape":"diamond","filled":true,"size":80,"color":"#BEBEBE","opacity":1},
  "encoding":{"x":{"field":"g","type":"nominal","scale":{"type":"band","domain":["control","OGD 1h"],"paddingInner":0,"paddingOuter":0},"axis":{"title":null}},
   "xOffset":{"field":"o","type":"quantitative","scale":{"domain":[-1,1]}},
   "y":{"field":"v","type":"quantitative","scale":{"domain":[0,2000]},"axis":{"title":"SA [um²]","format":"d","values":[0,500,1000,1500,2000],"labelExpr":"datum.value % 1000 === 0 ? datum.label : ''","tickSize":{"condition":{"test":"datum.value % 1000 !== 0","value":3},"value":6}}}}},
 {"data":{"name":"box"},"transform":[{"filter":"datum.p==='1L'"}],"encoding":{"x":{"field":"g","type":"nominal"}},"layer":[
  {"mark":{"type":"bar","width":107,"fill":"transparent","strokeWidth":2.5},"encoding":{"y":{"field":"q1","type":"quantitative"},"y2":{"field":"q3"},"stroke":{"field":"k","type":"nominal","scale":{"domain":["c1","o1","c3","o3","c12","o12"],"range":["#0000FF","#FF8000","#008000","#FF0000","#808000","#FF00FF"]},"legend":null}}},
  {"mark":{"type":"rule","strokeWidth":2.5},"encoding":{"y":{"field":"q3","type":"quantitative"},"y2":{"field":"hi"},"color":{"field":"k","type":"nominal","scale":{"domain":["c1","o1","c3","o3","c12","o12"],"range":["#0000FF","#FF8000","#008000","#FF0000","#808000","#FF00FF"]},"legend":null}}},
  {"mark":{"type":"rule","strokeWidth":2.5},"encoding":{"y":{"field":"lo","type":"quantitative"},"y2":{"field":"q1"},"color":{"field":"k","type":"nominal","legend":null}}},
  {"mark":{"type":"tick","thickness":2.5,"size":15,"opacity":1},"encoding":{"y":{"field":"hi","type":"quantitative"},"color":{"field":"k","type":"nominal","legend":null}}},
  {"mark":{"type":"tick","thickness":2.5,"size":15,"opacity":1},"encoding":{"y":{"field":"lo","type":"quantitative"},"color":{"field":"k","type":"nominal","legend":null}}},
  {"mark":{"type":"tick","thickness":2.5,"size":107,"color":"#000000","opacity":1},"encoding":{"y":{"field":"med","type":"quantitative"}}},
  {"mark":{"type":"point","shape":"square","filled":true,"fill":"#FFFFFF","stroke":"#000000","strokeWidth":1,"size":100,"opacity":1},"encoding":{"y":{"field":"mean","type":"quantitative"}}}
 ]},
 {"data":{"name":"sig"},"transform":[{"filter":"datum.p==='1L'"}],"layer":[
  {"mark":{"type":"rule","strokeWidth":1.5,"color":"#000000"},"encoding":{"x":{"field":"g","type":"nominal"},"x2":{"field":"g2"},"y":{"field":"y","type":"quantitative"}}},
  {"mark":{"type":"text","font":"Liberation Sans","fontSize":27,"baseline":"alphabetic","color":"#000000"},"encoding":{"x":{"field":"g","type":"nominal","bandPosition":1},"y":{"field":"ty","type":"quantitative"},"text":{"field":"t"}}}
 ]},
 {"data":{"name":"lab"},"transform":[{"filter":"datum.p==='1L' && datum.g==='control'"}],"mark":{"type":"text","font":"DejaVu Sans","fontSize":17.5,"baseline":"alphabetic","color":"#000000"},"encoding":{"x":{"field":"g","type":"nominal","bandPosition":0.49},"y":{"field":"y","type":"quantitative"},"text":{"field":"t"}}},
 {"data":{"name":"lab"},"transform":[{"filter":"datum.p==='1L' && datum.g!=='control'"}],"mark":{"type":"text","font":"DejaVu Sans","fontSize":17.5,"baseline":"alphabetic","color":"#000000"},"encoding":{"x":{"field":"g","type":"nominal","bandPosition":0.42},"y":{"field":"y","type":"quantitative"},"text":{"field":"t"}}}
]},
{"width":260,"height":192,"layer":[
 {"data":{"name":"pts"},"transform":[{"filter":"datum.p==='1R'"}],"mark":{"type":"point","shape":"diamond","filled":true,"size":80,"color":"#BEBEBE","opacity":1},
  "encoding":{"x":{"field":"g","type":"nominal","scale":{"type":"band","domain":["control","OGD 1h"],"paddingInner":0,"paddingOuter":0},"axis":{"title":null}},
   "xOffset":{"field":"o","type":"quantitative","scale":{"domain":[-1,1]}},
   "y":{"field":"v","type":"quantitative","scale":{"domain":[0,2000]},"axis":{"title":"SA [um²]","format":"d","values":[0,500,1000,1500,2000],"labelExpr":"datum.value % 1000 === 0 ? datum.label : ''","tickSize":{"condition":{"test":"datum.value % 1000 !== 0","value":3},"value":6}}}}},
 {"data":{"name":"box"},"transform":[{"filter":"datum.p==='1R'"}],"encoding":{"x":{"field":"g","type":"nominal"}},"layer":[
  {"mark":{"type":"bar","width":107,"fill":"transparent","strokeWidth":2.5},"encoding":{"y":{"field":"q1","type":"quantitative"},"y2":{"field":"q3"},"stroke":{"field":"k","type":"nominal","scale":{"domain":["c1","o1","c3","o3","c12","o12"],"range":["#0000FF","#FF8000","#008000","#FF0000","#808000","#FF00FF"]},"legend":null}}},
  {"mark":{"type":"rule","strokeWidth":2.5},"encoding":{"y":{"field":"q3","type":"quantitative"},"y2":{"field":"hi"},"color":{"field":"k","type":"nominal","scale":{"domain":["c1","o1","c3","o3","c12","o12"],"range":["#0000FF","#FF8000","#008000","#FF0000","#808000","#FF00FF"]},"legend":null}}},
  {"mark":{"type":"rule","strokeWidth":2.5},"encoding":{"y":{"field":"lo","type":"quantitative"},"y2":{"field":"q1"},"color":{"field":"k","type":"nominal","legend":null}}},
  {"mark":{"type":"tick","thickness":2.5,"size":15,"opacity":1},"encoding":{"y":{"field":"hi","type":"quantitative"},"color":{"field":"k","type":"nominal","legend":null}}},
  {"mark":{"type":"tick","thickness":2.5,"size":15,"opacity":1},"encoding":{"y":{"field":"lo","type":"quantitative"},"color":{"field":"k","type":"nominal","legend":null}}},
  {"mark":{"type":"tick","thickness":2.5,"size":107,"color":"#000000","opacity":1},"encoding":{"y":{"field":"med","type":"quantitative"}}},
  {"mark":{"type":"point","shape":"square","filled":true,"fill":"#FFFFFF","stroke":"#000000","strokeWidth":1,"size":100,"opacity":1},"encoding":{"y":{"field":"mean","type":"quantitative"}}}
 ]},
 {"data":{"name":"sig"},"transform":[{"filter":"datum.p==='1R'"}],"layer":[
  {"mark":{"type":"rule","strokeWidth":1.5,"color":"#000000"},"encoding":{"x":{"field":"g","type":"nominal"},"x2":{"field":"g2"},"y":{"field":"y","type":"quantitative"}}},
  {"mark":{"type":"text","font":"Liberation Sans","fontSize":21,"baseline":"alphabetic","color":"#000000"},"encoding":{"x":{"field":"g","type":"nominal","bandPosition":1},"y":{"field":"ty","type":"quantitative"},"text":{"field":"t"}}}
 ]},
 {"data":{"name":"lab"},"transform":[{"filter":"datum.p==='1R'"}],"mark":{"type":"text","font":"DejaVu Sans","fontSize":17.5,"baseline":"alphabetic","color":"#000000"},"encoding":{"x":{"field":"g","type":"nominal","bandPosition":0.97},"y":{"field":"y","type":"quantitative"},"text":{"field":"t"}}}
]},
{"width":260,"height":192,"layer":[
 {"data":{"name":"pts"},"transform":[{"filter":"datum.p==='2L'"}],"mark":{"type":"point","shape":"diamond","filled":true,"size":80,"color":"#BEBEBE","opacity":1},
  "encoding":{"x":{"field":"g","type":"nominal","scale":{"type":"band","domain":["control","OGD 3h"],"paddingInner":0,"paddingOuter":0},"axis":{"title":null}},
   "xOffset":{"field":"o","type":"quantitative","scale":{"domain":[-1,1]}},
   "y":{"field":"v","type":"quantitative","scale":{"domain":[0,2000]},"axis":{"title":"SA [um²]","format":"d","values":[0,500,1000,1500,2000],"labelExpr":"datum.value % 1000 === 0 ? datum.label : ''","tickSize":{"condition":{"test":"datum.value % 1000 !== 0","value":3},"value":6}}}}},
 {"data":{"name":"box"},"transform":[{"filter":"datum.p==='2L'"}],"encoding":{"x":{"field":"g","type":"nominal"}},"layer":[
  {"mark":{"type":"bar","width":107,"fill":"transparent","strokeWidth":2.5},"encoding":{"y":{"field":"q1","type":"quantitative"},"y2":{"field":"q3"},"stroke":{"field":"k","type":"nominal","scale":{"domain":["c1","o1","c3","o3","c12","o12"],"range":["#0000FF","#FF8000","#008000","#FF0000","#808000","#FF00FF"]},"legend":null}}},
  {"mark":{"type":"rule","strokeWidth":2.5},"encoding":{"y":{"field":"q3","type":"quantitative"},"y2":{"field":"hi"},"color":{"field":"k","type":"nominal","scale":{"domain":["c1","o1","c3","o3","c12","o12"],"range":["#0000FF","#FF8000","#008000","#FF0000","#808000","#FF00FF"]},"legend":null}}},
  {"mark":{"type":"rule","strokeWidth":2.5},"encoding":{"y":{"field":"lo","type":"quantitative"},"y2":{"field":"q1"},"color":{"field":"k","type":"nominal","legend":null}}},
  {"mark":{"type":"tick","thickness":2.5,"size":15,"opacity":1},"encoding":{"y":{"field":"hi","type":"quantitative"},"color":{"field":"k","type":"nominal","legend":null}}},
  {"mark":{"type":"tick","thickness":2.5,"size":15,"opacity":1},"encoding":{"y":{"field":"lo","type":"quantitative"},"color":{"field":"k","type":"nominal","legend":null}}},
  {"mark":{"type":"tick","thickness":2.5,"size":107,"color":"#000000","opacity":1},"encoding":{"y":{"field":"med","type":"quantitative"}}},
  {"mark":{"type":"point","shape":"square","filled":true,"fill":"#FFFFFF","stroke":"#000000","strokeWidth":1,"size":100,"opacity":1},"encoding":{"y":{"field":"mean","type":"quantitative"}}}
 ]},
 {"data":{"name":"sig"},"transform":[{"filter":"datum.p==='2L'"}],"layer":[
  {"mark":{"type":"rule","strokeWidth":1.5,"color":"#000000"},"encoding":{"x":{"field":"g","type":"nominal"},"x2":{"field":"g2"},"y":{"field":"y","type":"quantitative"}}},
  {"mark":{"type":"text","font":"Liberation Sans","fontSize":27,"baseline":"alphabetic","color":"#000000"},"encoding":{"x":{"field":"g","type":"nominal","bandPosition":1},"y":{"field":"ty","type":"quantitative"},"text":{"field":"t"}}}
 ]},
 {"data":{"name":"lab"},"transform":[{"filter":"datum.p==='2L' && datum.g==='control'"}],"mark":{"type":"text","font":"DejaVu Sans","fontSize":17.5,"baseline":"alphabetic","color":"#000000"},"encoding":{"x":{"field":"g","type":"nominal","bandPosition":0.49},"y":{"field":"y","type":"quantitative"},"text":{"field":"t"}}},
 {"data":{"name":"lab"},"transform":[{"filter":"datum.p==='2L' && datum.g!=='control'"}],"mark":{"type":"text","font":"DejaVu Sans","fontSize":17.5,"baseline":"alphabetic","color":"#000000"},"encoding":{"x":{"field":"g","type":"nominal","bandPosition":0.42},"y":{"field":"y","type":"quantitative"},"text":{"field":"t"}}}
]},
{"width":260,"height":192,"layer":[
 {"data":{"name":"pts"},"transform":[{"filter":"datum.p==='2R'"}],"mark":{"type":"point","shape":"diamond","filled":true,"size":80,"color":"#BEBEBE","opacity":1},
  "encoding":{"x":{"field":"g","type":"nominal","scale":{"type":"band","domain":["control","OGD 3h"],"paddingInner":0,"paddingOuter":0},"axis":{"title":null}},
   "xOffset":{"field":"o","type":"quantitative","scale":{"domain":[-1,1]}},
   "y":{"field":"v","type":"quantitative","scale":{"domain":[0,2000]},"axis":{"title":"SA [um²]","format":"d","values":[0,500,1000,1500,2000],"labelExpr":"datum.value % 1000 === 0 ? datum.label : ''","tickSize":{"condition":{"test":"datum.value % 1000 !== 0","value":3},"value":6}}}}},
 {"data":{"name":"box"},"transform":[{"filter":"datum.p==='2R'"}],"encoding":{"x":{"field":"g","type":"nominal"}},"layer":[
  {"mark":{"type":"bar","width":107,"fill":"transparent","strokeWidth":2.5},"encoding":{"y":{"field":"q1","type":"quantitative"},"y2":{"field":"q3"},"stroke":{"field":"k","type":"nominal","scale":{"domain":["c1","o1","c3","o3","c12","o12"],"range":["#0000FF","#FF8000","#008000","#FF0000","#808000","#FF00FF"]},"legend":null}}},
  {"mark":{"type":"rule","strokeWidth":2.5},"encoding":{"y":{"field":"q3","type":"quantitative"},"y2":{"field":"hi"},"color":{"field":"k","type":"nominal","scale":{"domain":["c1","o1","c3","o3","c12","o12"],"range":["#0000FF","#FF8000","#008000","#FF0000","#808000","#FF00FF"]},"legend":null}}},
  {"mark":{"type":"rule","strokeWidth":2.5},"encoding":{"y":{"field":"lo","type":"quantitative"},"y2":{"field":"q1"},"color":{"field":"k","type":"nominal","legend":null}}},
  {"mark":{"type":"tick","thickness":2.5,"size":15,"opacity":1},"encoding":{"y":{"field":"hi","type":"quantitative"},"color":{"field":"k","type":"nominal","legend":null}}},
  {"mark":{"type":"tick","thickness":2.5,"size":15,"opacity":1},"encoding":{"y":{"field":"lo","type":"quantitative"},"color":{"field":"k","type":"nominal","legend":null}}},
  {"mark":{"type":"tick","thickness":2.5,"size":107,"color":"#000000","opacity":1},"encoding":{"y":{"field":"med","type":"quantitative"}}},
  {"mark":{"type":"point","shape":"square","filled":true,"fill":"#FFFFFF","stroke":"#000000","strokeWidth":1,"size":100,"opacity":1},"encoding":{"y":{"field":"mean","type":"quantitative"}}}
 ]},
 {"data":{"name":"sig"},"transform":[{"filter":"datum.p==='2R'"}],"layer":[
  {"mark":{"type":"rule","strokeWidth":1.5,"color":"#000000"},"encoding":{"x":{"field":"g","type":"nominal"},"x2":{"field":"g2"},"y":{"field":"y","type":"quantitative"}}},
  {"mark":{"type":"text","font":"Liberation Sans","fontSize":27,"baseline":"alphabetic","color":"#000000"},"encoding":{"x":{"field":"g","type":"nominal","bandPosition":1},"y":{"field":"ty","type":"quantitative"},"text":{"field":"t"}}}
 ]},
 {"data":{"name":"lab"},"transform":[{"filter":"datum.p==='2R'"}],"mark":{"type":"text","font":"DejaVu Sans","fontSize":17.5,"baseline":"alphabetic","color":"#000000"},"encoding":{"x":{"field":"g","type":"nominal","bandPosition":0.97},"y":{"field":"y","type":"quantitative"},"text":{"field":"t"}}}
]},
{"width":260,"height":192,"title":{"text":" ","fontSize":12,"offset":14},"layer":[
 {"data":{"name":"pts"},"transform":[{"filter":"datum.p==='3L'"}],"mark":{"type":"point","shape":"diamond","filled":true,"size":80,"color":"#BEBEBE","opacity":1},
  "encoding":{"x":{"field":"g","type":"nominal","scale":{"type":"band","domain":["control","OGD 12h"],"paddingInner":0,"paddingOuter":0},"axis":{"title":null}},
   "xOffset":{"field":"o","type":"quantitative","scale":{"domain":[-1,1]}},
   "y":{"field":"v","type":"quantitative","scale":{"domain":[0,2000]},"axis":{"title":"SA [um²]","format":"d","values":[0,500,1000,1500,2000],"labelExpr":"datum.value % 1000 === 0 ? datum.label : ''","tickSize":{"condition":{"test":"datum.value % 1000 !== 0","value":3},"value":6}}}}},
 {"data":{"name":"box"},"transform":[{"filter":"datum.p==='3L'"}],"encoding":{"x":{"field":"g","type":"nominal"}},"layer":[
  {"mark":{"type":"bar","width":107,"fill":"transparent","strokeWidth":2.5},"encoding":{"y":{"field":"q1","type":"quantitative"},"y2":{"field":"q3"},"stroke":{"field":"k","type":"nominal","scale":{"domain":["c1","o1","c3","o3","c12","o12"],"range":["#0000FF","#FF8000","#008000","#FF0000","#808000","#FF00FF"]},"legend":null}}},
  {"mark":{"type":"rule","strokeWidth":2.5},"encoding":{"y":{"field":"q3","type":"quantitative"},"y2":{"field":"hi"},"color":{"field":"k","type":"nominal","scale":{"domain":["c1","o1","c3","o3","c12","o12"],"range":["#0000FF","#FF8000","#008000","#FF0000","#808000","#FF00FF"]},"legend":null}}},
  {"mark":{"type":"rule","strokeWidth":2.5},"encoding":{"y":{"field":"lo","type":"quantitative"},"y2":{"field":"q1"},"color":{"field":"k","type":"nominal","legend":null}}},
  {"mark":{"type":"tick","thickness":2.5,"size":15,"opacity":1},"encoding":{"y":{"field":"hi","type":"quantitative"},"color":{"field":"k","type":"nominal","legend":null}}},
  {"mark":{"type":"tick","thickness":2.5,"size":15,"opacity":1},"encoding":{"y":{"field":"lo","type":"quantitative"},"color":{"field":"k","type":"nominal","legend":null}}},
  {"mark":{"type":"tick","thickness":2.5,"size":107,"color":"#000000","opacity":1},"encoding":{"y":{"field":"med","type":"quantitative"}}},
  {"mark":{"type":"point","shape":"square","filled":true,"fill":"#FFFFFF","stroke":"#000000","strokeWidth":1,"size":100,"opacity":1},"encoding":{"y":{"field":"mean","type":"quantitative"}}}
 ]},
 {"data":{"name":"sig"},"transform":[{"filter":"datum.p==='3L'"}],"layer":[
  {"mark":{"type":"rule","strokeWidth":1.5,"color":"#000000"},"encoding":{"x":{"field":"g","type":"nominal"},"x2":{"field":"g2"},"y":{"field":"y","type":"quantitative"}}},
  {"mark":{"type":"text","font":"Liberation Sans","fontSize":27,"baseline":"alphabetic","color":"#000000"},"encoding":{"x":{"field":"g","type":"nominal","bandPosition":1},"y":{"field":"ty","type":"quantitative"},"text":{"field":"t"}}}
 ]},
 {"data":{"name":"lab"},"transform":[{"filter":"datum.p==='3L' && datum.g==='control'"}],"mark":{"type":"text","font":"DejaVu Sans","fontSize":17.5,"baseline":"alphabetic","color":"#000000"},"encoding":{"x":{"field":"g","type":"nominal","bandPosition":0.49},"y":{"field":"y","type":"quantitative"},"text":{"field":"t"}}},
 {"data":{"name":"lab"},"transform":[{"filter":"datum.p==='3L' && datum.g!=='control'"}],"mark":{"type":"text","font":"DejaVu Sans","fontSize":17.5,"baseline":"alphabetic","color":"#000000"},"encoding":{"x":{"field":"g","type":"nominal","bandPosition":0.42},"y":{"field":"y","type":"quantitative"},"text":{"field":"t"}}},
 {"data":{"name":"corner"},"transform":[{"filter":"datum.p==='3L'"}],"mark":{"type":"text","font":"Liberation Sans","fontSize":28,"baseline":"alphabetic","align":"center","dx":-80.5,"color":"#000000"},"encoding":{"x":{"field":"g","type":"nominal","bandPosition":0},"y":{"field":"y","type":"quantitative"},"text":{"field":"t"}}}
]},
{"width":260,"height":192,"layer":[
 {"data":{"name":"pts"},"transform":[{"filter":"datum.p==='3R'"}],"mark":{"type":"point","shape":"diamond","filled":true,"size":80,"color":"#BEBEBE","opacity":1},
  "encoding":{"x":{"field":"g","type":"nominal","scale":{"type":"band","domain":["control","OGD 12h"],"paddingInner":0,"paddingOuter":0},"axis":{"title":null}},
   "xOffset":{"field":"o","type":"quantitative","scale":{"domain":[-1,1]}},
   "y":{"field":"v","type":"quantitative","scale":{"domain":[0,2000]},"axis":{"title":"SA [um²]","format":"d","values":[0,500,1000,1500,2000],"labelExpr":"datum.value % 1000 === 0 ? datum.label : ''","tickSize":{"condition":{"test":"datum.value % 1000 !== 0","value":3},"value":6}}}}},
 {"data":{"name":"box"},"transform":[{"filter":"datum.p==='3R'"}],"encoding":{"x":{"field":"g","type":"nominal"}},"layer":[
  {"mark":{"type":"bar","width":107,"fill":"transparent","strokeWidth":2.5},"encoding":{"y":{"field":"q1","type":"quantitative"},"y2":{"field":"q3"},"stroke":{"field":"k","type":"nominal","scale":{"domain":["c1","o1","c3","o3","c12","o12"],"range":["#0000FF","#FF8000","#008000","#FF0000","#808000","#FF00FF"]},"legend":null}}},
  {"mark":{"type":"rule","strokeWidth":2.5},"encoding":{"y":{"field":"q3","type":"quantitative"},"y2":{"field":"hi"},"color":{"field":"k","type":"nominal","scale":{"domain":["c1","o1","c3","o3","c12","o12"],"range":["#0000FF","#FF8000","#008000","#FF0000","#808000","#FF00FF"]},"legend":null}}},
  {"mark":{"type":"rule","strokeWidth":2.5},"encoding":{"y":{"field":"lo","type":"quantitative"},"y2":{"field":"q1"},"color":{"field":"k","type":"nominal","legend":null}}},
  {"mark":{"type":"tick","thickness":2.5,"size":15,"opacity":1},"encoding":{"y":{"field":"hi","type":"quantitative"},"color":{"field":"k","type":"nominal","legend":null}}},
  {"mark":{"type":"tick","thickness":2.5,"size":15,"opacity":1},"encoding":{"y":{"field":"lo","type":"quantitative"},"color":{"field":"k","type":"nominal","legend":null}}},
  {"mark":{"type":"tick","thickness":2.5,"size":107,"color":"#000000","opacity":1},"encoding":{"y":{"field":"med","type":"quantitative"}}},
  {"mark":{"type":"point","shape":"square","filled":true,"fill":"#FFFFFF","stroke":"#000000","strokeWidth":1,"size":60,"opacity":1},"encoding":{"y":{"field":"mean","type":"quantitative"}}}
 ]},
 {"data":{"name":"sig"},"transform":[{"filter":"datum.p==='3R'"}],"layer":[
  {"mark":{"type":"rule","strokeWidth":1.5,"color":"#000000"},"encoding":{"x":{"field":"g","type":"nominal"},"x2":{"field":"g2"},"y":{"field":"y","type":"quantitative"}}},
  {"mark":{"type":"text","font":"Liberation Sans","fontSize":21,"baseline":"alphabetic","color":"#000000"},"encoding":{"x":{"field":"g","type":"nominal","bandPosition":1},"y":{"field":"ty","type":"quantitative"},"text":{"field":"t"}}}
 ]},
 {"data":{"name":"lab"},"transform":[{"filter":"datum.p==='3R'"}],"mark":{"type":"text","font":"DejaVu Sans","fontSize":17.5,"baseline":"alphabetic","color":"#000000"},"encoding":{"x":{"field":"g","type":"nominal","bandPosition":0.97},"y":{"field":"y","type":"quantitative"},"text":{"field":"t"}}},
 {"data":{"name":"corner"},"transform":[{"filter":"datum.p==='3R'"}],"mark":{"type":"text","font":"Liberation Sans","fontSize":28,"baseline":"alphabetic","align":"center","dx":-60,"color":"#000000"},"encoding":{"x":{"field":"g","type":"nominal","bandPosition":0},"y":{"field":"y","type":"quantitative"},"text":{"field":"t"}}}
]}
],
"config": {
 "view": {"stroke": null},
 "axis": {"grid": false, "domainColor": "#000000", "domainWidth": 1.5, "tickColor": "#000000", "tickWidth": 1.5, "labelColor": "#000000", "titleColor": "#000000"},
 "axisX": {"ticks": false, "tickSize": 0, "labelFont": "DejaVu Sans", "labelFontSize": 17.5, "labelPadding": 8, "labelAngle": 0},
 "axisY": {"labelFont": "Liberation Sans", "labelFontSize": 21, "labelPadding": 2, "labelFlush": false, "titleFont": "Liberation Sans", "titleFontSize": 25, "titleFontWeight": "normal", "titlePadding": 6}
}
}
